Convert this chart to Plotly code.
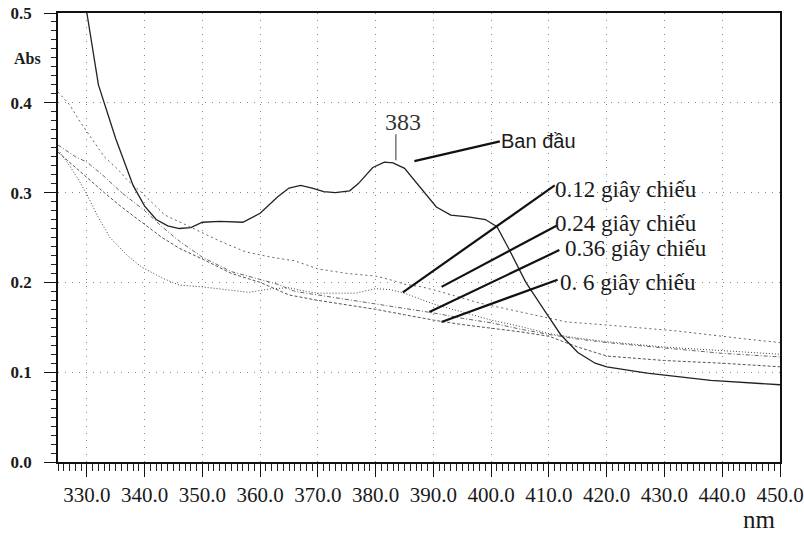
import plotly.graph_objects as go

# ---- data ----
wl_ban_dau = [325, 328, 330, 332, 335, 338, 340, 342, 344, 346, 348, 350, 353, 357, 360, 363, 365, 367,
              369, 371, 373, 375.5, 377, 379.5, 381.5, 383, 385, 387.5, 390.5, 393, 396, 399, 401, 403,
              406, 409.5, 412, 415, 418, 420, 427, 438, 450]
abs_ban_dau = [0.62, 0.54, 0.50, 0.42, 0.36, 0.308, 0.285, 0.27, 0.263, 0.26, 0.261, 0.267, 0.268, 0.267,
               0.277, 0.295, 0.305, 0.308, 0.305, 0.301, 0.300, 0.302, 0.31, 0.328, 0.334, 0.333, 0.327,
               0.307, 0.284, 0.275, 0.273, 0.27, 0.262, 0.238, 0.2, 0.166, 0.142, 0.122, 0.11, 0.106,
               0.099, 0.091, 0.086]

wl_012 = [325, 327, 328.5, 330, 332, 334, 337, 339.5, 343, 346, 350, 354, 358, 362, 365, 368, 370, 376.5,
          380, 382.5, 385, 390, 395, 400, 405, 410, 415, 420, 430, 440, 450]
abs_012 = [0.348, 0.330, 0.315, 0.298, 0.272, 0.25, 0.23, 0.217, 0.205, 0.197, 0.195, 0.192, 0.189, 0.193,
           0.194, 0.19, 0.188, 0.188, 0.193, 0.192, 0.188, 0.176, 0.167, 0.158, 0.151, 0.143, 0.138,
           0.134, 0.128, 0.124, 0.120]

wl_024 = [325, 327, 328.5, 330, 331.5, 333, 335.5, 337, 339.5, 342, 343.5, 346.5, 350, 353, 357.5, 362, 366,
          370, 375, 380, 382.5, 385, 388, 391, 398, 405, 413, 421, 432, 444, 450]
abs_024 = [0.412, 0.398, 0.382, 0.368, 0.355, 0.34, 0.325, 0.314, 0.300, 0.284, 0.275, 0.266, 0.255, 0.246,
           0.234, 0.228, 0.224, 0.215, 0.21, 0.207, 0.203, 0.198, 0.195, 0.19, 0.177, 0.167, 0.156, 0.152,
           0.146, 0.137, 0.133]

wl_036 = [325, 328, 330, 333, 336, 340, 343, 346, 350, 355, 359, 363, 366, 370, 375, 380, 385, 390, 395,
          400, 405, 410, 415, 420, 430, 440, 450]
abs_036 = [0.353, 0.340, 0.334, 0.318, 0.300, 0.28, 0.262, 0.246, 0.228, 0.212, 0.205, 0.198, 0.19, 0.186,
           0.181, 0.176, 0.171, 0.166, 0.160, 0.155, 0.148, 0.142, 0.137, 0.133, 0.127, 0.121, 0.117]

wl_06 = [325, 328, 330, 333, 336, 340, 343, 346, 350, 355, 360, 365, 370, 375, 380, 385, 390, 395, 400,
         405, 410, 415, 420, 430, 440, 450]
abs_06 = [0.345, 0.328, 0.316, 0.300, 0.284, 0.265, 0.25, 0.238, 0.226, 0.21, 0.2, 0.186, 0.18, 0.175,
          0.17, 0.164, 0.158, 0.153, 0.149, 0.145, 0.14, 0.128, 0.118, 0.113, 0.110, 0.106]

x_ticks = [330, 340, 350, 360, 370, 380, 390, 400, 410, 420, 430, 440, 450]
y_ticks = [0.0, 0.1, 0.2, 0.3, 0.4, 0.5]

# labels: (text, pointer tip x, tip y, pointer end x, pointer end y, text left x, text centre y)
labels = [
    ("0.12 giây chiếu", 384.7, 0.189, 411.0, 0.308, 410.7, 0.303),
    ("0.24 giây chiếu", 391.4, 0.195, 411.3, 0.263, 410.7, 0.266),
    ("0.36 giây chiếu", 389.3, 0.167, 411.8, 0.236, 412.4, 0.238),
    ("0. 6 giây chiếu", 391.4, 0.156, 411.5, 0.203, 411.5, 0.200),
]

SERIF = "Liberation Serif"
SANS = "Liberation Sans"
INK = "#1a1a1a"

W, H = 804, 536
PL, PR, PT, PB = 58, 780, 13, 462


def px(X):
    return (X - PL) / (PR - PL)


def py(Y):
    return (PB - Y) / (PB - PT)


fig = go.Figure()

fig.add_trace(go.Scatter(x=wl_024, y=abs_024, mode="lines",
                         line=dict(color="#666", width=1, dash="2px,3px"), name="0.24"))
fig.add_trace(go.Scatter(x=wl_012, y=abs_012, mode="lines",
                         line=dict(color="#444", width=1, dash="1px,2px"), name="0.12"))
fig.add_trace(go.Scatter(x=wl_036, y=abs_036, mode="lines",
                         line=dict(color="#666", width=1, dash="4px,2px,1px,2px"), name="0.36"))
fig.add_trace(go.Scatter(x=wl_06, y=abs_06, mode="lines",
                         line=dict(color="#555", width=1, dash="3px,2px"), name="0.6"))
fig.add_trace(go.Scatter(x=wl_ban_dau, y=abs_ban_dau, mode="lines",
                         line=dict(color="#222", width=1.3), name="Ban đầu"))

# peak marker and "Ban đầu" pointer
fig.add_shape(type="line", x0=383.5, y0=0.336, x1=383.5, y1=0.365, xref="x", yref="y",
              line=dict(color="#333", width=1))
fig.add_annotation(x=384.8, y=0.379, xref="x", yref="y", text="383", showarrow=False,
                   font=dict(family=SERIF, size=24, color="#333"))
fig.add_shape(type="line", x0=386.7, y0=0.335, x1=401.5, y1=0.357, xref="x", yref="y",
              line=dict(color="#111", width=2.2))
fig.add_annotation(x=401.3, y=0.358, xref="x", yref="y", text="Ban đầu", showarrow=False,
                   xanchor="left", font=dict(family=SANS, size=20, color=INK))

for text, tx, ty, ex, ey, lx, ly in labels:
    fig.add_shape(type="line", x0=tx, y0=ty, x1=ex, y1=ey, xref="x", yref="y",
                  line=dict(color="#111", width=2.2))
    fig.add_annotation(x=lx, y=ly, xref="x", yref="y", text=text, showarrow=False,
                       xanchor="left", yanchor="middle",
                       font=dict(family=SERIF, size=23, color=INK))

fig.add_annotation(x=px(27), y=py(58), xref="paper", yref="paper", text="<b>Abs</b>",
                   showarrow=False, xanchor="center", yanchor="middle",
                   font=dict(family=SERIF, size=16, color=INK))
fig.add_annotation(x=px(759), y=py(519), xref="paper", yref="paper", text="nm",
                   showarrow=False, xanchor="center", yanchor="middle",
                   font=dict(family=SERIF, size=25, color=INK))

fig.update_layout(
    width=W, height=H,
    margin=dict(l=PL, r=W - PR, t=PT, b=H - PB, pad=0),
    paper_bgcolor="white", plot_bgcolor="white",
    showlegend=False,
    font=dict(family=SERIF, color=INK),
)
fig.update_xaxes(
    range=[325, 450], tickvals=x_ticks, ticktext=[f"{v:.1f}" for v in x_ticks],
    showline=True, linecolor="#111", linewidth=1.5, mirror=True,
    ticks="outside", ticklen=13, tickcolor="#111", tickwidth=1.2,
    minor=dict(dtick=1, ticks="outside", ticklen=7, tickcolor="#222", showgrid=False),
    showgrid=True, gridcolor="#888", griddash="1px,6px", gridwidth=1,
    tickfont=dict(family=SERIF, size=21, color=INK), ticklabelstandoff=0,
    zeroline=False, automargin=False,
)
fig.update_yaxes(
    range=[0, 0.5], tickvals=y_ticks, ticktext=[f"<b>{v:.1f}</b>" for v in y_ticks],
    showline=True, linecolor="#111", linewidth=1.5, mirror=True,
    ticks="outside", ticklen=12, tickcolor="#111", tickwidth=1.2,
    minor=dict(dtick=0.01, ticks="outside", ticklen=5, tickcolor="#222", showgrid=False),
    showgrid=True, gridcolor="#888", griddash="1px,6px", gridwidth=1,
    tickfont=dict(family=SERIF, size=17, color=INK), ticklabelstandoff=9,
    zeroline=False, automargin=False,
)

fig.write_html("out.html", config={"displayModeBar": False},
               post_script="document.body.style.margin='0';")
